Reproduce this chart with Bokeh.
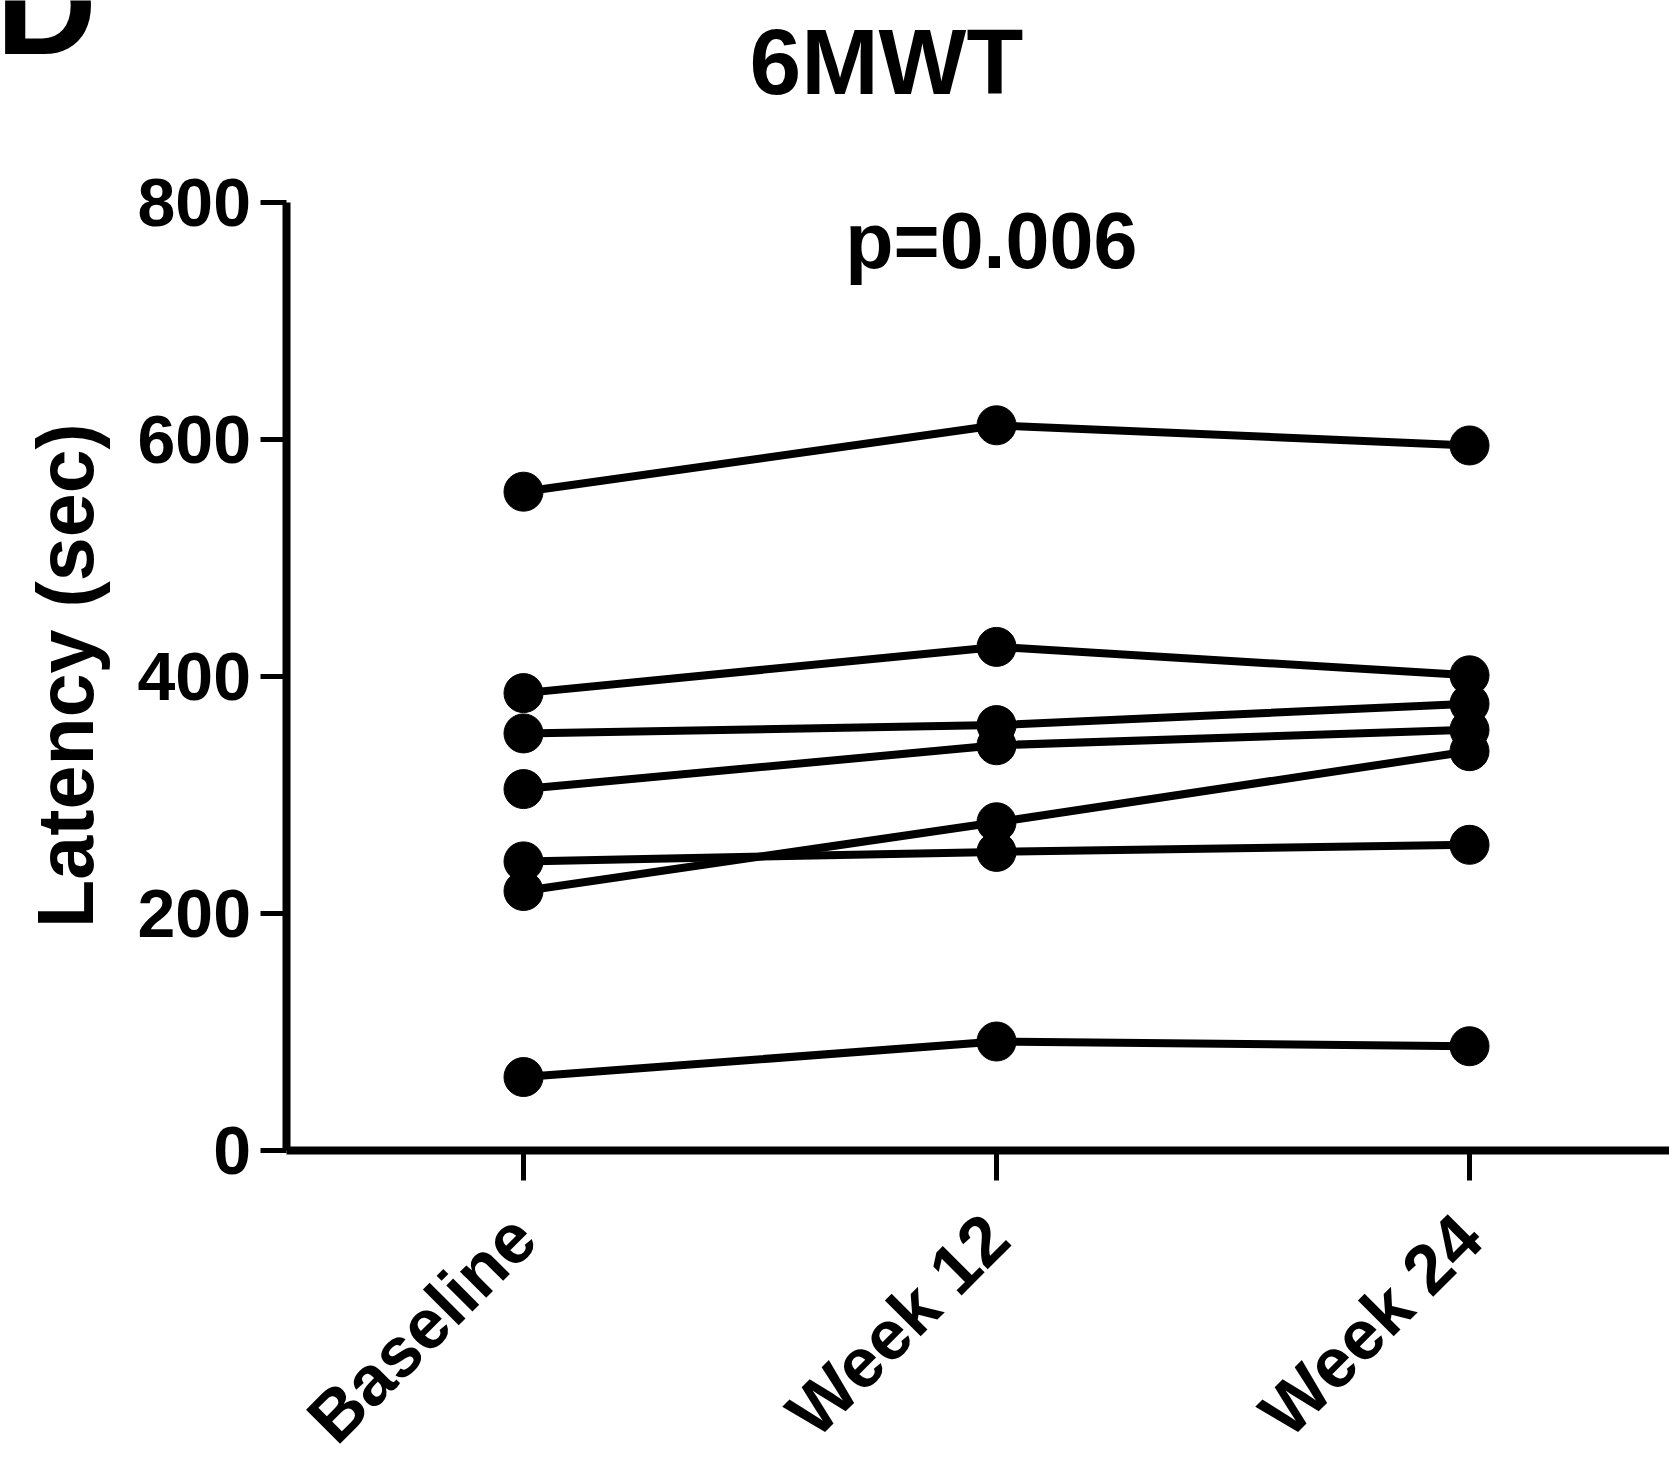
from bokeh.plotting import figure
from bokeh.models import FixedTicker, Label, ColumnDataSource, Range1d
from bokeh.embed import file_html
from bokeh.resources import INLINE
import math

# ---- data ----
timepoints = ["Baseline", "Week 12", "Week 24"]
baseline = [556, 386, 352, 305, 244, 219, 62]
week12 = [612, 425, 359, 342, 252, 277, 92]
week24 = [595, 401, 377, 355, 258, 337, 88]
y_ticks = [0, 200, 400, 600, 800]
title_text = "6MWT"
p_text = "p=0.006"
y_title = "Latency (sec)"
panel_letter = "D"

FONT = "Liberation Sans"
W, H = 1669, 1458
X0, X1 = -0.1057, 3.4228
Y0, Y1 = -259.9, 970.5

p = figure(width=W, height=H, output_backend="svg", toolbar_location=None,
           x_range=Range1d(X0, X1), y_range=Range1d(Y0, Y1),
           min_border_left=0, min_border_bottom=0,
           min_border_top=0, min_border_right=0)
p.outline_line_color = None
p.grid.visible = False
p.background_fill_color = "white"
p.border_fill_color = "white"

xs = [1, 2, 3]
for i in range(len(baseline)):
    ys = [baseline[i], week12[i], week24[i]]
    src = ColumnDataSource(dict(x=xs, y=ys))
    p.line("x", "y", source=src, line_color="black", line_width=8)
    p.scatter("x", "y", source=src, size=39, marker="circle",
              fill_color="black", line_color="black")

# x axis (pinned at y = 0)
xa = p.xaxis[0]
xa.fixed_location = 0
xa.bounds = (0.5, X1)
xa.ticker = FixedTicker(ticks=xs)
xa.major_label_overrides = {i + 1: t for i, t in enumerate(timepoints)}
xa.major_label_orientation = math.pi / 4
xa.major_label_text_font = FONT
xa.major_label_text_font_style = "bold"
xa.major_label_text_font_size = "70px"
xa.major_label_text_color = "black"
xa.major_label_standoff = 46
xa.axis_line_width = 8
xa.axis_line_color = "black"
xa.major_tick_line_width = 5
xa.major_tick_out = 30
xa.major_tick_in = 0
xa.minor_tick_line_color = None

# y axis (pinned at x = 0.5)
ya = p.yaxis[0]
ya.fixed_location = 0.5
ya.bounds = (0, 800)
ya.ticker = FixedTicker(ticks=y_ticks)
ya.major_label_text_font = FONT
ya.major_label_text_font_style = "bold"
ya.major_label_text_font_size = "68px"
ya.major_label_text_color = "black"
ya.major_label_standoff = 10
ya.axis_line_width = 8
ya.axis_line_color = "black"
ya.major_tick_line_width = 5
ya.major_tick_out = 26
ya.major_tick_in = 0
ya.minor_tick_line_color = None

# annotations
p.add_layout(Label(x=0.0317, y=400.8, text=y_title, angle=math.pi / 2,
                   text_font=FONT, text_font_style="bold", text_font_size="79px",
                   text_align="center", text_baseline="middle", text_color="black"))
p.add_layout(Label(x=1.767, y=918.6, text=title_text, text_font=FONT,
                   text_font_style="bold", text_font_size="93px",
                   text_align="center", text_baseline="middle",
                   text_color="black"))
p.add_layout(Label(x=1.989, y=767.6, text=p_text, text_font=FONT,
                   text_font_style="bold", text_font_size="79px",
                   text_align="center", text_baseline="middle",
                   text_color="black"))
p.add_layout(Label(x=-0.116, y=966.2, text=panel_letter, text_font=FONT,
                   text_font_style="bold", text_font_size="140px",
                   text_align="left", text_baseline="middle",
                   text_color="black"))

open("out.html", "w").write(file_html(p, INLINE))
